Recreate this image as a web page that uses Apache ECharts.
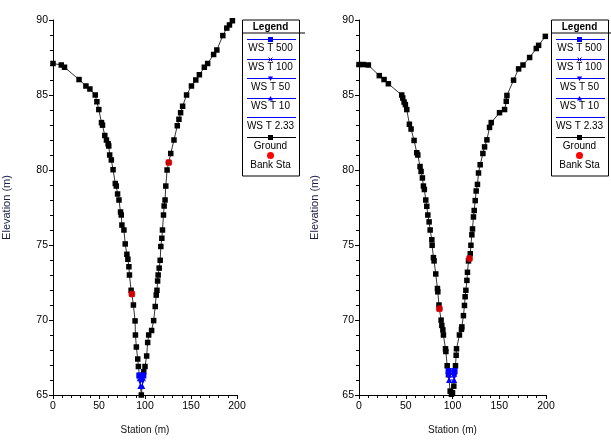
<!DOCTYPE html>
<html>
<head>
<meta charset="utf-8">
<title>Cross sections</title>
<script src="https://cdn.jsdelivr.net/npm/echarts@6/dist/echarts.min.js"></script>
<style>
    html, body { margin: 0; padding: 0; background: #fff; }
    #chart { width: 611px; height: 440px; }
</style>
</head>
<body>
<div id="chart"></div>
<script>
// ground points, left section [station, elevation]
let groundLeft = [[0,87.1],[9,87.0],[12.5,86.85],[28.3,86.03],[35.8,85.6],[40.1,85.4],[45.9,85.0],[47.7,84.55],
    [49.8,84.03],[52.7,83.16],[53.8,82.99],[56.3,82.3],[58.1,82.0],[59.9,81.75],[60.6,81.6],[61.6,81.0],
    [63.4,80.67],[65.3,80.02],[67.7,79.1],[68.8,78.93],[70.2,78.4],[71.7,78.0],[73.4,77.2],[74.2,77.0],
    [74.9,76.33],[77.1,76.0],[78.5,75.07],[80.3,74.38],[81.4,74.05],[82.5,73.55],[83.1,73.0],[84.9,71.98],
    [85.7,71.73],[87.4,71.0],[89.2,69.94],[89.6,69.0],[90.6,68.2],[92.1,67.4],[92.8,66.9],[93.9,66.3],
    [96.0,65.0],[98.6,66.55],[100,66.9],[101.8,67.6],[102.9,68.5],[104,69.0],[107.2,69.3],[109.4,69.96],
    [111.1,70.9],[112.2,71.66],[113,71.98],[113.7,72.6],[114.3,73.0],[115.4,73.46],[116.5,73.98],[117.2,74.9],
    [118.3,75.45],[119,76.0],[120.1,77.0],[120.8,77.6],[121.8,78.0],[122.6,78.93],[124,80.0],[125.8,80.5],
    [128,81.1],[131.5,82.0],[135.1,82.95],[136.9,83.38],[138.7,83.82],[140.9,84.25],[145.2,85.0],[150.5,85.6],
    [155.2,86.0],[159.1,86.35],[164.5,86.85],[168.1,87.1],[174.6,87.7],[178.1,88.0],[184.6,88.96],[188.9,89.46],
    [191.8,89.67],[195,89.95]];

// ground points, right section
let groundRight = [[0,87.03],[4.6,87.03],[10,87.0],[21.7,86.29],[26.8,86.03],[31.4,85.75],[45.7,85.0],[46.8,84.8],
    [48.2,84.53],[49.6,84.36],[51.1,84.03],[53.9,83.05],[55.7,82.73],[58.9,81.97],[61.8,81.15],[62.9,81.0],
    [65.3,80.23],[66.4,79.9],[67.8,79.47],[68.9,78.93],[69.9,78.7],[71.4,78.0],[72.5,77.58],[73.6,77.0],
    [75,76.54],[76.1,76.0],[77.9,75.35],[78.2,74.98],[79.6,74.16],[80.3,73.94],[82.1,73.07],[83.9,72.1],
    [84.3,71.88],[85.5,71.0],[86,70.75],[87.8,69.99],[88.6,69.64],[89.7,69.34],[90.3,69.0],[92.5,68.08],
    [92.9,67.9],[94.3,66.95],[95.7,66.35],[97.5,65.26],[98.9,65.05],[100,65.15],[101.4,65.59],[103.2,66.95],
    [103.9,67.65],[104.3,68.08],[107.4,69.0],[109.6,69.38],[110,69.54],[111.7,70.29],[112.8,70.97],[113.5,71.55],
    [114.3,71.98],[115.4,72.64],[116,73.18],[117.1,73.94],[118.2,74.1],[119,74.42],[119.7,74.98],[120.7,75.68],
    [121.4,76.07],[122.4,76.87],[123.2,77.3],[124.3,77.96],[125.3,78.6],[126.7,79.04],[127.8,79.8],[129.6,80.35],
    [132.5,81.1],[134.3,81.54],[136.8,82.01],[139.6,82.84],[141.4,83.16],[150.3,83.82],[155.7,84.03],[157.5,84.58],
    [158.2,84.97],[165.3,85.99],[170.7,86.74],[175.4,87.0],[182.5,87.5],[189.6,88.1],[192.1,88.31],[199.3,88.91]];

// bank stations
let bankLeft = [[85.7,71.73],[125.8,80.5]];
let bankRight = [[86,70.75],[118.2,74.1]];

// water surfaces (T 500, 100, 50, 10, 2.33)
let wsLeft = [
    [[94.0,66.3],[98.2,66.3]],
    [[94.2,66.1],[97.8,66.1]],
    [[94.6,65.9],[97.5,65.9]],
    [[95.0,65.6],[97.0,65.6]],
    [[95.4,65.4],[96.7,65.4]]
];
let wsRight = [
    [[95.8,66.6],[102.2,66.6]],
    [[95.9,66.4],[102.0,66.4]],
    [[96.1,66.2],[101.9,66.2]],
    [[96.3,66.0],[101.8,66.0]],
    [[96.5,65.85],[101.6,65.85]]
];

let wsNames = ['WS T 500', 'WS T 100', 'WS T 50', 'WS T 10', 'WS T 2.33'];
let legendNames = ['WS T 500', 'WS T 100', 'WS T 50', 'WS T 10', 'WS T 2.33', 'Ground', 'Bank Sta'];

let xTicks = [0, 200, 50];    // min, max, interval
let yTicks = [65, 90, 5];

let FONT = 'Liberation Sans, Arial, sans-serif';
let BLUE = '#0000ff';
let XMARK = 'path://M0,1L1,0L5,4L9,0L10,1L6,5L10,9L9,10L5,6L1,10L0,9L4,5Z';
let wsSymbols = ['rect', XMARK, 'triangle', 'triangle', 'none'];
let wsRotate = [0, 0, 180, 0, 0];

window.onload = function () {
    let chart = echarts.init(document.getElementById('chart'));

    // axis builders
    function xAxisOf(idx) {
        return {
            gridIndex: idx, type: 'value', min: xTicks[0], max: xTicks[1], interval: xTicks[2],
            name: 'Station (m)', nameLocation: 'middle', nameGap: 30,
            nameTextStyle: { fontFamily: FONT, fontSize: 10, color: '#111' },
            axisLine: { lineStyle: { color: '#000', width: 1 } },
            axisTick: { length: 4, lineStyle: { color: '#000' } },
            minorTick: { show: true, splitNumber: 5, length: 3, lineStyle: { color: '#000' } },
            axisLabel: { fontFamily: FONT, fontSize: 10.5, color: '#000', margin: 6 },
            splitLine: { show: false }
        };
    }
    function yAxisOf(idx, gap) {
        return {
            gridIndex: idx, type: 'value', min: yTicks[0], max: yTicks[1], interval: yTicks[2],
            name: 'Elevation (m)', nameLocation: 'middle', nameGap: gap,
            nameTextStyle: { fontFamily: FONT, fontSize: 11, color: '#1a1a44' },
            axisLine: { show: true, lineStyle: { color: '#000', width: 1 } },
            axisTick: { show: true, length: 4, lineStyle: { color: '#000' } },
            minorTick: { show: true, splitNumber: 5, length: 3, lineStyle: { color: '#000' } },
            axisLabel: { fontFamily: FONT, fontSize: 10.5, color: '#000', margin: 5 },
            splitLine: { show: false }
        };
    }

    // series for one section
    function seriesOf(idx, ground, bank, ws) {
        let list = [];
        list.push({
            name: 'Ground', type: 'line', xAxisIndex: idx, yAxisIndex: idx, data: ground,
            symbol: 'rect', symbolSize: 5.5, z: 2,
            lineStyle: { color: '#333', width: 1 }, itemStyle: { color: '#000' }
        });
        for (let i = 0; i < ws.length; i++) {
            list.push({
                name: wsNames[i], type: 'line', xAxisIndex: idx, yAxisIndex: idx, data: ws[i],
                symbol: wsSymbols[i], symbolRotate: wsRotate[i], symbolSize: 6, showSymbol: true, z: 3,
                lineStyle: { color: BLUE, width: 1 }, itemStyle: { color: BLUE }
            });
        }
        list.push({
            name: 'Bank Sta', type: 'scatter', xAxisIndex: idx, yAxisIndex: idx, data: bank,
            symbol: 'circle', symbolSize: 7, z: 4, itemStyle: { color: '#ff0000' }
        });
        return list;
    }

    // legend box drawn the way the original does (line sample above, name below)
    function legendBox(L) {
        let T = 19.5, W = 57, H = 156, cx = L + W / 2;
        let els = [];
        els.push({ type: 'rect', shape: { x: L + 0.5, y: T + 0.5, width: W, height: H },
            style: { fill: '#fff', stroke: '#000', lineWidth: 1 }, z: 10 });
        els.push({ type: 'text', x: cx, y: T + 7.5, z: 11,
            style: { text: 'Legend', font: 'bold 10px ' + FONT, fill: '#000', align: 'center', verticalAlign: 'middle' } });
        els.push({ type: 'line', shape: { x1: L, y1: T + 13.5, x2: L + 63, y2: T + 13.5 },
            style: { stroke: '#000', lineWidth: 1 }, z: 11 });
        for (let i = 0; i < legendNames.length; i++) {
            let ly = Math.round(T + 19.5 + 19.55 * i) + 0.5;
            let ty = T + 28.5 + 19.55 * i;
            let col = i < 5 ? BLUE : (i === 5 ? '#000' : '#ff0000');
            if (i < 6) {
                els.push({ type: 'line', shape: { x1: L + 5, y1: ly, x2: L + 54, y2: ly },
                    style: { stroke: col, lineWidth: 1 }, z: 11 });
            }
            if (i === 0 || i === 5) {
                els.push({ type: 'rect', shape: { x: cx - 2.5, y: ly - 2.5, width: 5, height: 5 }, style: { fill: col }, z: 12 });
            } else if (i === 1) {
                els.push({ type: 'polyline', shape: { points: [[cx - 2, ly - 2], [cx + 2, ly + 2]] }, style: { stroke: col, lineWidth: 1 }, z: 12 });
                els.push({ type: 'polyline', shape: { points: [[cx + 2, ly - 2], [cx - 2, ly + 2]] }, style: { stroke: col, lineWidth: 1 }, z: 12 });
            } else if (i === 2) {
                els.push({ type: 'polygon', shape: { points: [[cx - 2.5, ly - 2], [cx + 2.5, ly - 2], [cx, ly + 2.5]] }, style: { fill: col }, z: 12 });
            } else if (i === 3) {
                els.push({ type: 'polygon', shape: { points: [[cx - 2.5, ly + 2], [cx + 2.5, ly + 2], [cx, ly - 2.5]] }, style: { fill: col }, z: 12 });
            } else if (i === 6) {
                els.push({ type: 'circle', shape: { cx: cx, cy: ly - 1, r: 3.5 }, style: { fill: col }, z: 12 });
            }
            els.push({ type: 'text', x: cx, y: ty, z: 11,
                style: { text: legendNames[i], font: '10px ' + FONT, fill: '#000', align: 'center', verticalAlign: 'middle' } });
        }
        return els;
    }

    let option = {
        animation: false,
        backgroundColor: '#fff',
        grid: [
            { left: 51, top: 20, width: 186, height: 384 },
            { left: 359, top: 20, width: 187, height: 384 }
        ],
        xAxis: [xAxisOf(0), xAxisOf(1)],
        yAxis: [yAxisOf(0, 41), yAxisOf(1, 39)],
        series: seriesOf(0, groundLeft, bankLeft, wsLeft).concat(seriesOf(1, groundRight, bankRight, wsRight)),
        graphic: legendBox(242).concat(legendBox(551))
    };

    chart.setOption(option);
};
</script>
</body>
</html>
